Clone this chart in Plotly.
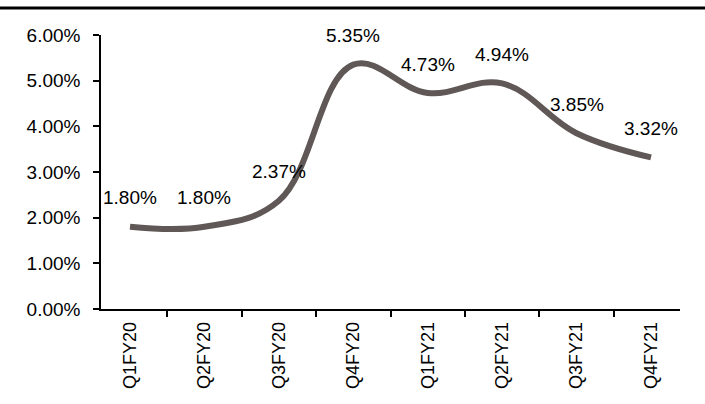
import plotly.graph_objects as go

categories = ["Q1FY20", "Q2FY20", "Q3FY20", "Q4FY20", "Q1FY21", "Q2FY21", "Q3FY21", "Q4FY21"]
values = [1.80, 1.80, 2.37, 5.35, 4.73, 4.94, 3.85, 3.32]
y_ticks = [0, 1, 2, 3, 4, 5, 6]

FONT = "Liberation Sans, Arial, sans-serif"
LINE_COLOR = "#5f5856"

fig = go.Figure()
fig.add_trace(go.Scatter(
    x=categories, y=values, mode="lines",
    line=dict(color=LINE_COLOR, width=6, shape="spline", smoothing=1.1),
    hoverinfo="skip", showlegend=False,
))

for c, v in zip(categories, values):
    fig.add_annotation(x=c, y=v, text=f"{v:.2f}%", showarrow=False,
                       yshift=29, font=dict(family=FONT, size=19, color="#000000"))

fig.update_layout(
    width=705, height=404,
    margin=dict(l=101, r=25, t=35, b=95),
    paper_bgcolor="white", plot_bgcolor="white",
    font=dict(family=FONT, size=19, color="#000000"),
    showlegend=False,
    shapes=[dict(type="line", xref="paper", yref="paper",
                 x0=-101 / 579, x1=(705 - 101) / 579,
                 y0=(309 - 8) / 274, y1=(309 - 8) / 274,
                 line=dict(color="#000000", width=3))],
)

fig.update_xaxes(
    type="category", showgrid=False, zeroline=False,
    showline=True, linecolor="#000000", linewidth=1.5,
    ticks="outside", ticklen=6, tickcolor="#000000", tickwidth=1.5,
    tickson="boundaries", tickangle=-90, ticklabelstandoff=4,
    tickfont=dict(family=FONT, size=18, color="#000000"),
)
fig.update_yaxes(
    range=[0, 6], tickvals=y_ticks,
    ticktext=[f"{t:.2f}%" for t in y_ticks],
    showgrid=False, zeroline=False,
    showline=True, linecolor="#000000", linewidth=1.5,
    ticks="outside", ticklen=6, tickcolor="#000000", tickwidth=1.5,
    ticklabelstandoff=9,
    tickfont=dict(family=FONT, size=19, color="#000000"),
)

fig.write_html("out.html")
